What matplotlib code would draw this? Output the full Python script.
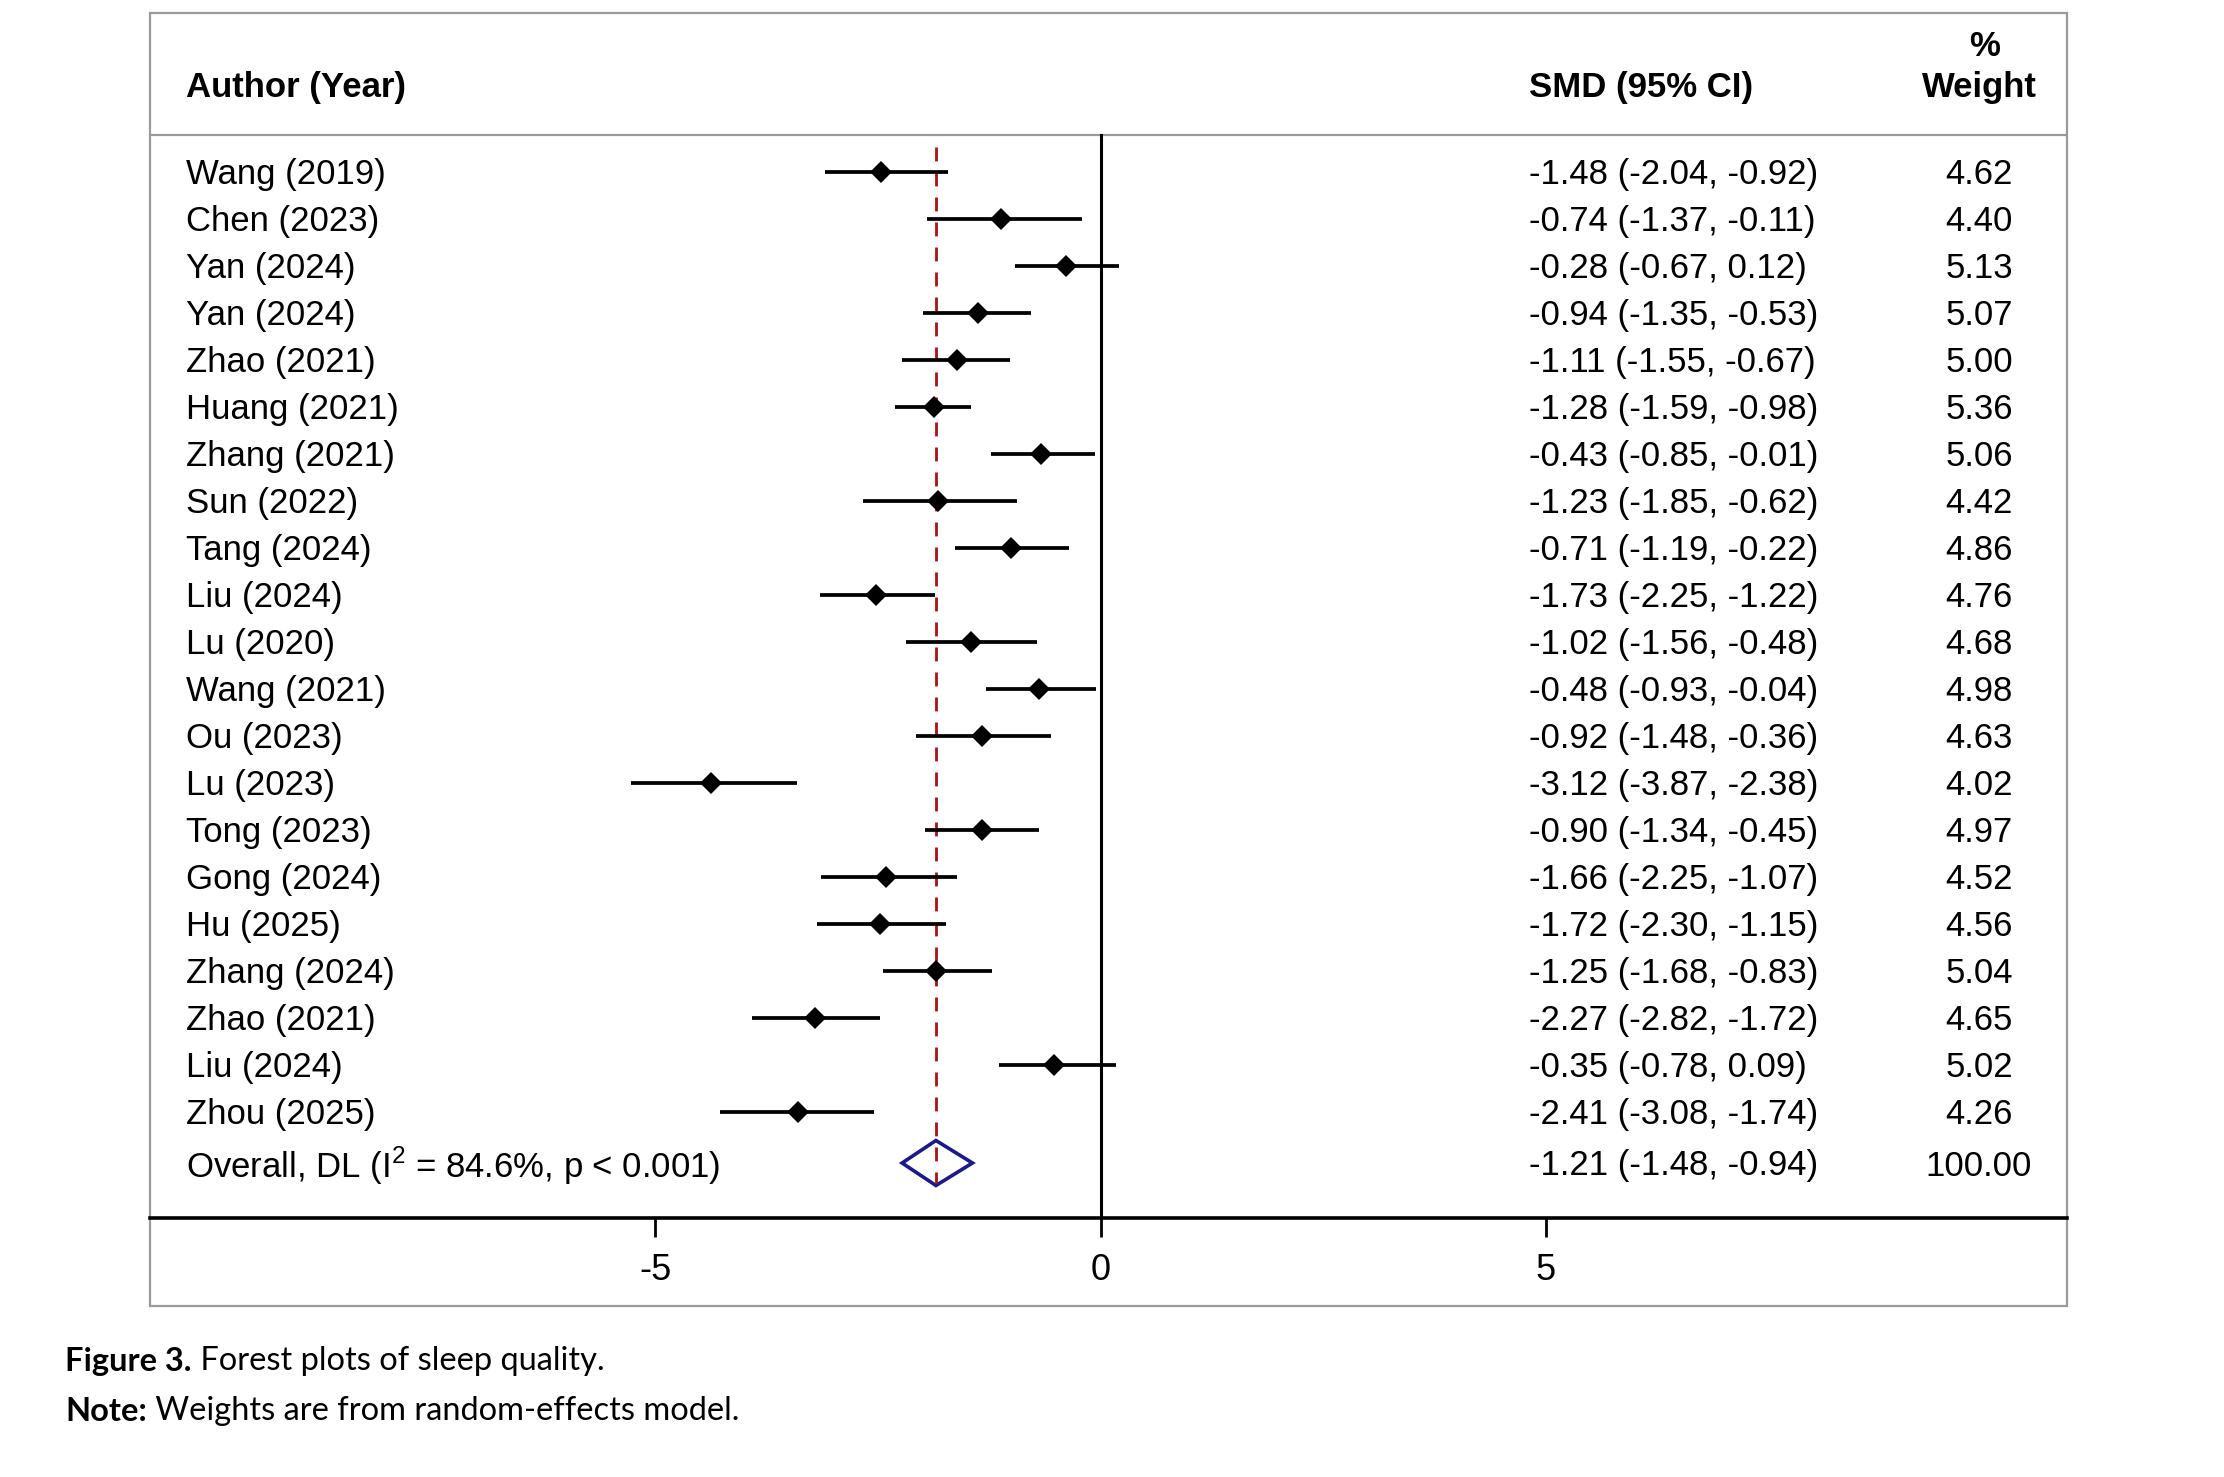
import numpy as np
import matplotlib.pyplot as plt
from matplotlib.patches import Polygon, Rectangle

plt.rcParams['font.family'] = ['Liberation Sans', 'DejaVu Sans']
plt.rcParams['mathtext.fontset'] = 'custom'
plt.rcParams['mathtext.rm'] = 'Liberation Sans'

# study labels, text columns
authors = ["Wang (2019)", "Chen (2023)", "Yan (2024)", "Yan (2024)", "Zhao (2021)",
           "Huang (2021)", "Zhang (2021)", "Sun (2022)", "Tang (2024)", "Liu (2024)",
           "Lu (2020)", "Wang (2021)", "Ou (2023)", "Lu (2023)", "Tong (2023)",
           "Gong (2024)", "Hu (2025)", "Zhang (2024)", "Zhao (2021)", "Liu (2024)",
           "Zhou (2025)"]
smd_text = ["-1.48 (-2.04, -0.92)", "-0.74 (-1.37, -0.11)", "-0.28 (-0.67, 0.12)",
            "-0.94 (-1.35, -0.53)", "-1.11 (-1.55, -0.67)", "-1.28 (-1.59, -0.98)",
            "-0.43 (-0.85, -0.01)", "-1.23 (-1.85, -0.62)", "-0.71 (-1.19, -0.22)",
            "-1.73 (-2.25, -1.22)", "-1.02 (-1.56, -0.48)", "-0.48 (-0.93, -0.04)",
            "-0.92 (-1.48, -0.36)", "-3.12 (-3.87, -2.38)", "-0.90 (-1.34, -0.45)",
            "-1.66 (-2.25, -1.07)", "-1.72 (-2.30, -1.15)", "-1.25 (-1.68, -0.83)",
            "-2.27 (-2.82, -1.72)", "-0.35 (-0.78, 0.09)", "-2.41 (-3.08, -1.74)"]
weights = ["4.62", "4.40", "5.13", "5.07", "5.00", "5.36", "5.06", "4.42", "4.86",
           "4.76", "4.68", "4.98", "4.63", "4.02", "4.97", "4.52", "4.56", "5.04",
           "4.65", "5.02", "4.26"]

# marker positions as drawn in the picture (x units)
pts = [-2.47, -1.12, -0.39, -1.38, -1.61, -1.87, -0.67, -1.83, -1.01, -2.52, -1.46,
       -0.69, -1.33, -4.38, -1.33, -2.41, -2.48, -1.85, -3.21, -0.52, -3.40]
lo = [-3.10, -1.95, -0.96, -1.99, -2.23, -2.31, -1.23, -2.67, -1.64, -3.15, -2.19,
      -1.29, -2.07, -5.27, -1.97, -3.14, -3.19, -2.44, -3.92, -1.14, -4.28]
hi = [-1.72, -0.21, 0.21, -0.78, -1.02, -1.46, -0.06, -0.94, -0.36, -1.86, -0.72,
      -0.05, -0.56, -3.41, -0.69, -1.61, -1.74, -1.22, -2.48, 0.17, -2.54]

overall_label = "Overall, DL (I$^{2}$ = 84.6%, p < 0.001)"
overall_text = "-1.21 (-1.48, -0.94)"
overall_weight = "100.00"
overall_pt, overall_lo, overall_hi = -1.85, -2.23, -1.44

fig = plt.figure(figsize=(22.24, 14.77), dpi=100)
W, H = 2224, 1477
# axes = the framed box
bx0, bx1, by0, by1 = 150, 2067, 13, 1306
ax = fig.add_axes([bx0 / W, 1 - by1 / H, (bx1 - bx0) / W, (by1 - by0) / H])

px_unit = 89.06
x_zero = 1100.7
row_h = 47.0
row0 = 171.6
ax.set_xlim((bx0 - x_zero) / px_unit, (bx1 - x_zero) / px_unit)
ax.set_ylim((by1 - row0) / row_h, (by0 - row0) / row_h)

def ypix(p):
    return (p - row0) / row_h

n = len(authors)
ys = np.arange(n)
y_over = ypix(1163)
y_axis = ypix(1218)
y_head = ypix(135)
toff = 3.0 / row_h  # text sits a touch lower than bbox centre

for s in ['left', 'right', 'top']:
    ax.spines[s].set_visible(False)
ax.spines['bottom'].set_position(('data', y_axis))
ax.spines['bottom'].set_linewidth(2.6)
ax.set_yticks([])
ax.set_xticks([-5, 0, 5])
ax.set_xticklabels(['-5', '0', '5'])
ax.tick_params(axis='x', direction='out', length=14, width=2.0, labelsize=26, pad=11)

# frame and header rule
ax.add_patch(Rectangle((0, 0), 1, 1, transform=ax.transAxes, fill=False,
                       edgecolor='#9a9a9a', lw=1.6, clip_on=False))
ax.axhline(y_head, color='#9a9a9a', lw=1.6)

# null line
ax.plot([0, 0], [y_head, y_axis], color='black', lw=2.2)
# overall dashed line
ax.plot([overall_pt, overall_pt], [ypix(147), ypix(1183)], color='#b01010', lw=2.0,
        dashes=(5, 4))

for y, a, b, p in zip(ys, lo, hi, pts):
    ax.plot([a, b], [y, y], color='black', lw=2.7, solid_capstyle='butt')
    ax.plot(p, y, marker='D', color='black', markersize=11.5, markeredgewidth=0)

dh = 22.5 / row_h
ax.add_patch(Polygon([(overall_lo, y_over), (overall_pt, y_over - dh),
                      (overall_hi, y_over), (overall_pt, y_over + dh)],
                     closed=True, fill=False, edgecolor='#1a1a8c', lw=2.6))

# text columns
x_auth = (186 - x_zero) / px_unit
x_smd = (1529 - x_zero) / px_unit
x_wt = (1979 - x_zero) / px_unit
fs = 25
ax.text(x_auth, ypix(84) + toff, "Author (Year)", fontsize=fs, fontweight='bold', va='center')
ax.text(x_smd, ypix(85) + toff, "SMD (95% CI)", fontsize=fs, fontweight='bold', va='center')
ax.text(x_wt + 0.06, ypix(44) + toff, "%", fontsize=fs, fontweight='bold', va='center',
        ha='center')
ax.text(x_wt, ypix(85) + toff, "Weight", fontsize=fs, fontweight='bold', va='center',
        ha='center')

for y, a, s, w in zip(ys, authors, smd_text, weights):
    ax.text(x_auth, y + toff, a, fontsize=fs, va='center')
    ax.text(x_smd, y + toff, s, fontsize=fs, va='center')
    ax.text(x_wt, y + toff, w, fontsize=fs, va='center', ha='center')

ax.text(x_auth, y_over + toff, overall_label, fontsize=fs, va='center')
ax.text(x_smd, y_over + toff, overall_text, fontsize=fs, va='center')
ax.text(x_wt, y_over + toff, overall_weight, fontsize=fs, va='center', ha='center')

# caption
cap_font = ['Lato', 'DejaVu Sans']
cfs = 23.5
t1 = fig.text(65 / W, 1 - 1376 / H, "Figure 3.", fontsize=cfs, fontweight='bold',
              family=cap_font, va='bottom')
fig.add_artist(plt.Annotation(" Forest plots of sleep quality.", xy=(1, 0), xycoords=t1,
                              va='bottom', fontsize=cfs, family=cap_font))
t2 = fig.text(65 / W, 1 - 1426 / H, "Note:", fontsize=cfs, fontweight='bold',
              family=cap_font, va='bottom')
fig.add_artist(plt.Annotation(" Weights are from random-effects model.", xy=(1, 0),
                              xycoords=t2, va='bottom', fontsize=cfs, family=cap_font))

fig.savefig("out.png", dpi=100, facecolor='white')
